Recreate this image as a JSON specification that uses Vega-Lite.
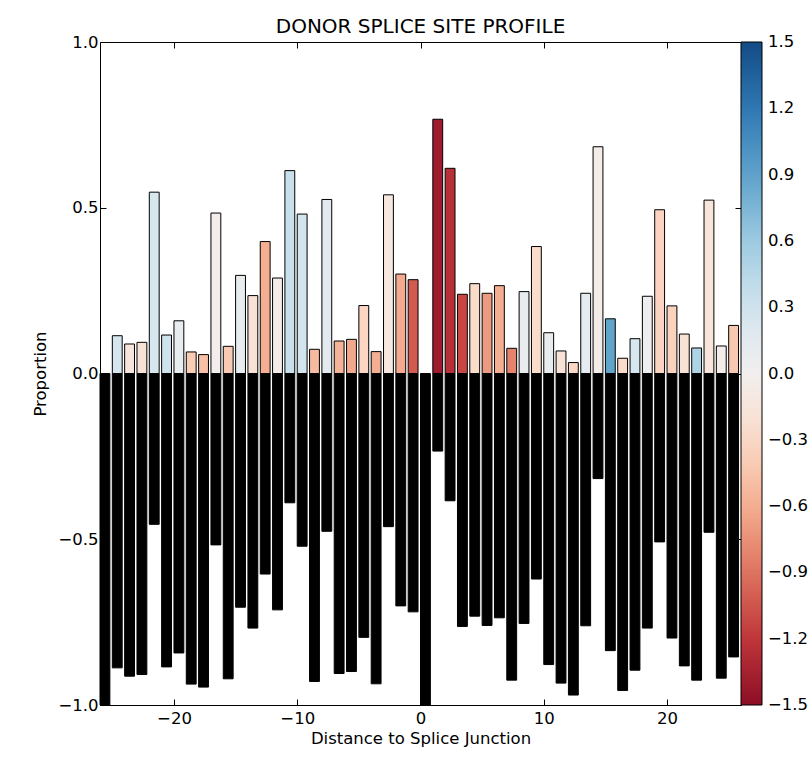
{
  "$schema": "https://vega.github.io/schema/vega-lite/v6.json",
  "width": 641,
  "height": 663,
  "autosize": {"type": "none"},
  "padding": {"left": 100, "top": 42, "right": 71, "bottom": 57},
  "background": "white",
  "title": {"text": "DONOR SPLICE SITE PROFILE", "fontSize": 20, "font": "DejaVu Sans", "fontWeight": "normal", "offset": -3, "anchor": "middle", "color": "black"},
  "data": {"values": [
    {"pos": -26, "prop": null, "neg": -1.0, "col": null},
    {"pos": -25, "prop": 0.114, "neg": -0.888, "col": 0.27},
    {"pos": -24, "prop": 0.089, "neg": -0.913, "col": -0.15},
    {"pos": -23, "prop": 0.094, "neg": -0.908, "col": -0.2},
    {"pos": -22, "prop": 0.547, "neg": -0.455, "col": 0.25},
    {"pos": -21, "prop": 0.116, "neg": -0.885, "col": 0.32},
    {"pos": -20, "prop": 0.159, "neg": -0.843, "col": 0.1},
    {"pos": -19, "prop": 0.065, "neg": -0.937, "col": -0.4},
    {"pos": -18, "prop": 0.057, "neg": -0.946, "col": -0.48},
    {"pos": -17, "prop": 0.484, "neg": -0.517, "col": -0.02},
    {"pos": -16, "prop": 0.082, "neg": -0.921, "col": -0.42},
    {"pos": -15, "prop": 0.296, "neg": -0.705, "col": 0.1},
    {"pos": -14, "prop": 0.235, "neg": -0.768, "col": -0.2},
    {"pos": -13, "prop": 0.398, "neg": -0.605, "col": -0.6},
    {"pos": -12, "prop": 0.288, "neg": -0.713, "col": -0.05},
    {"pos": -11, "prop": 0.612, "neg": -0.39, "col": 0.36},
    {"pos": -10, "prop": 0.481, "neg": -0.521, "col": 0.3},
    {"pos": -9, "prop": 0.073, "neg": -0.929, "col": -0.52},
    {"pos": -8, "prop": 0.525, "neg": -0.476, "col": 0.15},
    {"pos": -7, "prop": 0.098, "neg": -0.905, "col": -0.57},
    {"pos": -6, "prop": 0.103, "neg": -0.899, "col": -0.63},
    {"pos": -5, "prop": 0.205, "neg": -0.796, "col": -0.33},
    {"pos": -4, "prop": 0.066, "neg": -0.936, "col": -0.6},
    {"pos": -3, "prop": 0.539, "neg": -0.462, "col": -0.12},
    {"pos": -2, "prop": 0.3, "neg": -0.701, "col": -0.62},
    {"pos": -1, "prop": 0.283, "neg": -0.719, "col": -1.02},
    {"pos": 0, "prop": null, "neg": -1.0, "col": null},
    {"pos": 1, "prop": 0.767, "neg": -0.234, "col": -1.4},
    {"pos": 2, "prop": 0.619, "neg": -0.384, "col": -1.25},
    {"pos": 3, "prop": 0.239, "neg": -0.763, "col": -1.12},
    {"pos": 4, "prop": 0.271, "neg": -0.732, "col": -0.28},
    {"pos": 5, "prop": 0.242, "neg": -0.76, "col": -0.7},
    {"pos": 6, "prop": 0.265, "neg": -0.737, "col": -0.6},
    {"pos": 7, "prop": 0.076, "neg": -0.925, "col": -0.82},
    {"pos": 8, "prop": 0.247, "neg": -0.754, "col": 0.08},
    {"pos": 9, "prop": 0.383, "neg": -0.62, "col": -0.3},
    {"pos": 10, "prop": 0.123, "neg": -0.878, "col": 0.08},
    {"pos": 11, "prop": 0.068, "neg": -0.934, "col": -0.2},
    {"pos": 12, "prop": 0.033, "neg": -0.97, "col": -0.32},
    {"pos": 13, "prop": 0.242, "neg": -0.761, "col": 0.12},
    {"pos": 14, "prop": 0.684, "neg": -0.317, "col": -0.05},
    {"pos": 15, "prop": 0.165, "neg": -0.836, "col": 0.88},
    {"pos": 16, "prop": 0.046, "neg": -0.956, "col": -0.3},
    {"pos": 17, "prop": 0.105, "neg": -0.895, "col": 0.25},
    {"pos": 18, "prop": 0.233, "neg": -0.768, "col": 0.03},
    {"pos": 19, "prop": 0.494, "neg": -0.508, "col": -0.35},
    {"pos": 20, "prop": 0.204, "neg": -0.798, "col": -0.36},
    {"pos": 21, "prop": 0.119, "neg": -0.882, "col": -0.2},
    {"pos": 22, "prop": 0.077, "neg": -0.925, "col": 0.5},
    {"pos": 23, "prop": 0.523, "neg": -0.479, "col": -0.15},
    {"pos": 24, "prop": 0.083, "neg": -0.919, "col": -0.04},
    {"pos": 25, "prop": 0.145, "neg": -0.855, "col": -0.43}
  ]},
  "layer": [
    {
      "mark": {"type": "bar", "size": 9.86, "xOffset": 4.93, "fill": "black", "stroke": "black", "strokeWidth": 1},
      "encoding": {
        "x": {"field": "pos", "type": "quantitative", "scale": {"domain": [-26, 26], "nice": false, "zero": false, "padding": 0},
              "axis": {"orient": "top", "values": [-20, -10, 0, 10, 20], "labels": false, "title": null, "tickSize": -6, "domain": false, "grid": false}},
        "y": {"field": "neg", "type": "quantitative", "scale": {"domain": [-1, 1], "nice": false, "padding": 0},
              "axis": {"orient": "right", "values": [-1, -0.5, 0, 0.5, 1], "labels": false, "title": null, "tickSize": -6, "domain": false, "grid": false}}
      }
    },
    {
      "mark": {"type": "bar", "size": 9.86, "xOffset": 4.93, "stroke": "black", "strokeWidth": 1},
      "encoding": {
        "x": {"field": "pos", "type": "quantitative", "scale": {"domain": [-26, 26], "nice": false, "zero": false, "padding": 0},
              "axis": {"orient": "bottom", "values": [-20, -10, 0, 10, 20], "format": "d", "title": "Distance to Splice Junction", "tickSize": -6, "labelPadding": 11, "titlePadding": 4, "domain": false, "grid": false}},
        "y": {"field": "prop", "type": "quantitative", "scale": {"domain": [-1, 1], "nice": false, "padding": 0},
              "axis": {"orient": "left", "values": [-1, -0.5, 0, 0.5, 1], "format": ".1f", "title": "Proportion", "tickSize": -6, "labelPadding": 8, "titlePadding": 9, "domain": false, "grid": false}},
        "color": {"field": "col", "type": "quantitative",
                  "scale": {"scheme": "redblue", "domain": [-1.5, 1.5]},
                  "legend": {"orient": "none", "legendX": 641, "legendY": 0, "direction": "vertical", "gradientLength": 663, "gradientThickness": 21,
                             "values": [-1.5, -1.2, -0.9, -0.6, -0.3, 0, 0.3, 0.6, 0.9, 1.2, 1.5], "format": ".1f", "title": null,
                             "gradientStrokeColor": "black", "gradientStrokeWidth": 1, "labelOffset": 6, "labelFontSize": 16.5, "labelFont": "DejaVu Sans", "labelColor": "black", "labelOverlap": false, "labelBaseline": "middle", "padding": 0,
                             "encode": {"labels": {"update": {"baseline": {"value": "middle"}}}}}}
      }
    }
  ],
  "resolve": {"axis": {"x": "independent", "y": "independent"}},
  "config": {
    "view": {"stroke": "black", "strokeWidth": 1},
    "axis": {"labelFont": "DejaVu Sans", "labelFontSize": 16.5, "labelColor": "black", "titleFont": "DejaVu Sans", "titleFontSize": 16.5, "titleFontWeight": "normal", "titleColor": "black", "tickColor": "black", "tickWidth": 1}
  }
}
